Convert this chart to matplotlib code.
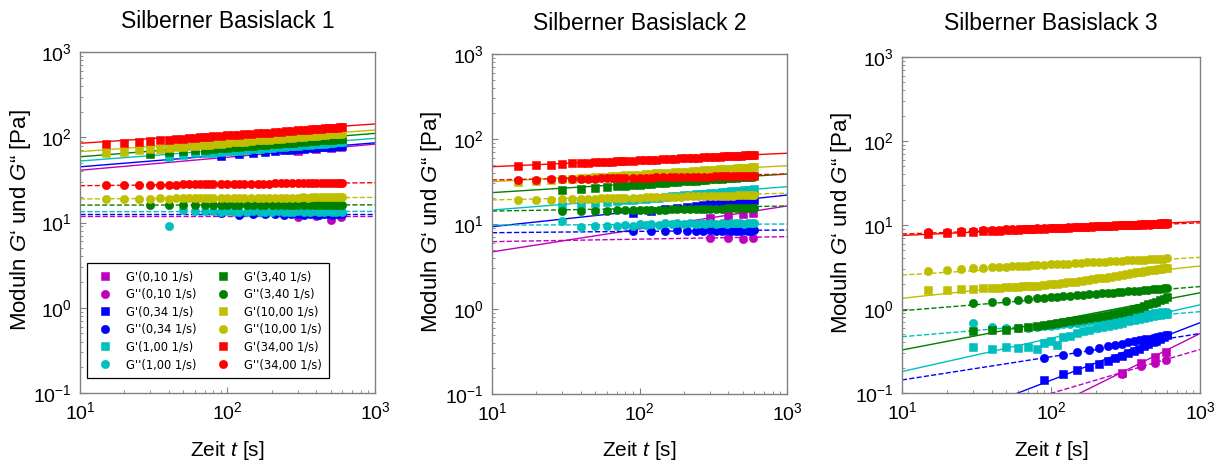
import matplotlib
matplotlib.use("Agg")
import matplotlib.pyplot as plt

plt.rcParams["font.family"] = ["Liberation Sans", "DejaVu Sans"]
plt.rcParams["mathtext.fontset"] = "custom"
plt.rcParams["mathtext.rm"] = "Liberation Sans"
plt.rcParams["mathtext.it"] = "Liberation Sans:italic"
plt.rcParams["axes.unicode_minus"] = False

titles = ["Silberner Basislack 1", "Silberner Basislack 2", "Silberner Basislack 3"]
rates = ["0,10", "0,34", "1,00", "3,40", "10,00", "34,00"]
colors = ["m", "b", "c", "g", "y", "r"]

# measurement times [s] per shear rate (slow rates are sampled less often)
t_vslow = [300, 400, 500, 590]
t_slow = [90, 120, 150, 180, 210, 240, 270, 300, 330, 360, 390, 420, 450, 480,
          510, 540, 570, 600]
t_mid = [30, 40, 50, 60, 70, 80, 90, 100, 110, 120, 135, 150, 165, 180, 200, 220,
         240, 260, 280, 300, 330, 360, 390, 420, 450, 480, 510, 540, 570, 600]
t_fast = [15, 20, 25, 30, 35, 40, 45, 50, 55, 60, 65, 70, 75, 80, 90, 100, 110,
          120, 130, 145, 160, 175, 190, 210, 230, 250, 275, 300, 325, 350, 375,
          400, 430, 460, 490, 520, 550, 575, 600]
rate_times = [t_vslow, t_slow, t_mid, t_mid, t_fast, t_fast]

# ---------------- Basislack 1 ----------------
bl1_gp_010 = [69.5, 72.0, 74.0, 76.0]
bl1_gpp_010 = [11.6, 11.9, 10.8, 11.7]
bl1_gp_034 = [61.0, 63.8, 65.2, 67.6, 68.4, 70.3, 70.9, 72.6, 73.0, 74.5, 74.7,
              76.1, 76.3, 77.5, 77.6, 78.9, 79.0, 79.9]
bl1_gpp_034 = [12.9, 12.4, 12.5, 12.7, 12.5, 12.4, 12.6, 12.5, 12.3, 12.6, 12.5,
               12.4, 12.6, 12.5, 12.4, 12.5, 12.6, 12.5]
bl1_gp_100 = [58.6, 61.4, 64.7, 64.5, 65.9, 66.9, 68.1, 68.8, 69.9, 70.9, 72.2,
              73.0, 74.1, 75.1, 76.3, 77.1, 78.2, 78.8, 79.8, 80.7, 81.9, 82.7,
              83.8, 84.4, 85.4, 86.0, 86.9, 87.4, 88.2]
bl1_gpp_100 = [9.2, 13.9, 13.7, 13.6, 13.5, 13.4, 13.5, 13.4, 13.3, 13.4, 13.5,
               13.4, 13.3, 13.4, 13.5, 13.4, 13.4, 13.3, 13.5, 13.4, 13.4, 13.5,
               13.3, 13.4, 13.5, 13.4, 13.4, 13.5, 13.4]
bl1_gp_340 = [63.7, 67.7, 68.6, 70.5, 71.5, 73.3, 74.0, 75.5, 76.0, 77.4, 78.2,
              79.8, 80.4, 81.7, 82.5, 84.0, 84.5, 85.9, 86.3, 87.6, 88.2, 89.7,
              90.3, 91.6, 92.0, 93.3, 93.6, 94.7, 95.0, 95.9]
bl1_gpp_340 = [16.1, 16.0, 16.2, 15.9, 16.1, 16.0, 16.2, 16.0, 16.1, 15.9, 16.0,
               16.1, 16.0, 16.2, 16.0, 16.1, 16.0, 15.9, 16.1, 16.0, 16.1, 16.0,
               16.2, 16.0, 16.1, 16.0, 16.1, 16.2, 16.0, 16.1]
bl1_gp_1000 = [65.0, 67.8, 70.0, 71.9, 73.5, 74.9, 76.2, 77.4, 78.5, 79.5, 80.4,
               81.3, 82.1, 82.9, 84.3, 85.6, 86.8, 87.9, 88.9, 90.3, 91.6, 92.8,
               93.9, 95.3, 96.6, 97.8, 99.1, 100.4, 101.5, 102.6, 103.7, 104.7,
               105.8, 106.8, 107.8, 108.7, 109.6, 110.3, 111.0]
bl1_gpp_1000 = [18.9, 19.1, 19.0, 19.1, 19.2, 19.1, 19.2, 19.2, 19.3, 19.2, 19.3,
                19.3, 19.4, 19.3, 19.4, 19.4, 19.4, 19.5, 19.4, 19.5, 19.5, 19.5,
                19.6, 19.5, 19.6, 19.6, 19.6, 19.6, 19.7, 19.6, 19.7, 19.7, 19.7,
                19.7, 19.7, 19.8, 19.7, 19.8, 19.8]
bl1_gp_3400 = [83.0, 86.0, 88.4, 90.4, 92.1, 93.7, 95.1, 96.3, 97.4, 98.5, 99.5,
               100.4, 101.3, 102.1, 103.6, 104.9, 106.2, 107.3, 108.4, 109.8,
               111.2, 112.5, 113.6, 115.0, 116.4, 117.5, 118.9, 120.2, 121.4,
               122.5, 123.6, 124.6, 125.7, 126.7, 127.7, 128.6, 129.5, 130.3, 131.0]
bl1_gpp_3400 = [27.6, 27.7, 27.7, 27.8, 27.8, 27.9, 27.9, 28.0, 28.0, 28.0, 28.1,
                28.1, 28.1, 28.2, 28.2, 28.3, 28.3, 28.4, 28.4, 28.5, 28.5, 28.6,
                28.6, 28.7, 28.7, 28.8, 28.8, 28.9, 28.9, 29.0, 29.0, 29.1, 29.1,
                29.2, 29.2, 29.3, 29.3, 29.4, 29.4]
# power-law fits, value at t = 10 s and t = 1000 s
bl1_fit_gp = [(41.0, 83.0), (45.0, 86.0), (52.6, 97.0), (59.0, 111.0),
              (67.8, 121.6), (85.0, 143.0)]
bl1_fit_gpp = [(11.9, 11.9), (12.5, 12.5), (13.4, 13.5), (16.0, 16.1),
               (18.9, 19.7), (27.0, 29.3)]

# ---------------- Basislack 2 ----------------
bl2_gp_010 = [11.7, 12.5, 13.2, 13.6]
bl2_gpp_010 = [6.8, 6.9, 6.7, 6.9]
bl2_gp_034 = [13.6, 14.3, 15.0, 15.5, 15.9, 16.3, 16.7, 17.0, 17.3, 17.6, 17.9,
              18.1, 18.4, 18.6, 18.8, 19.0, 19.2, 19.4]
bl2_gpp_034 = [8.3, 8.2, 8.3, 8.4, 8.2, 8.3, 8.3, 8.4, 8.2, 8.3, 8.4, 8.3, 8.2,
               8.3, 8.4, 8.3, 8.3, 8.4]
bl2_gp_100 = [16.5, 17.2, 17.8, 18.2, 18.7, 19.0, 19.4, 19.7, 19.9, 20.2, 20.5,
              20.8, 21.1, 21.4, 21.7, 22.0, 22.3, 22.6, 22.8, 23.0, 23.4, 23.7,
              23.9, 24.2, 24.4, 24.7, 24.9, 25.1, 25.3, 25.5]
bl2_gpp_100 = [10.9, 9.3, 9.6, 9.4, 9.5, 9.8, 9.6, 9.9, 9.7, 10.1, 9.8, 10.2,
               9.9, 10.3, 9.9, 10.2, 10.0, 10.4, 9.9, 10.3, 10.1, 10.4, 10.0,
               10.3, 10.2, 10.4, 10.1, 10.3, 10.2, 10.3]
bl2_gp_340 = [25.0, 25.9, 26.7, 27.3, 27.8, 28.3, 28.7, 29.1, 29.4, 29.7, 30.2,
              30.6, 30.9, 31.3, 31.7, 32.1, 32.4, 32.8, 33.1, 33.4, 33.7, 34.1,
              34.5, 34.8, 35.1, 35.4, 35.6, 35.9, 36.1, 36.4]
bl2_gpp_340 = [14.2, 14.3, 14.4, 14.4, 14.5, 14.5, 14.6, 14.6, 14.7, 14.7, 14.8,
               14.8, 14.9, 14.9, 15.0, 15.0, 15.0, 15.1, 15.1, 15.2, 15.2, 15.2,
               15.3, 15.3, 15.3, 15.4, 15.4, 15.4, 15.5, 15.5]
bl2_gp_1000 = [31.0, 32.0, 32.8, 33.4, 34.0, 34.5, 35.0, 35.4, 35.7, 36.1, 36.4,
               36.7, 37.0, 37.3, 37.8, 38.2, 38.6, 39.0, 39.3, 39.8, 40.2, 40.6,
               41.0, 41.4, 41.9, 42.3, 42.7, 43.1, 43.5, 43.8, 44.2, 44.5, 44.8,
               45.2, 45.5, 45.8, 46.1, 46.3, 46.5]
bl2_gpp_1000 = [19.0, 19.2, 19.4, 19.5, 19.6, 19.7, 19.8, 19.9, 20.0, 20.0, 20.1,
                20.2, 20.2, 20.3, 20.4, 20.5, 20.6, 20.6, 20.7, 20.8, 20.9, 21.0,
                21.0, 21.1, 21.2, 21.3, 21.3, 21.4, 21.4, 21.5, 21.5, 21.6, 21.6,
                21.7, 21.7, 21.8, 21.8, 21.8, 21.9]
bl2_gp_3400 = [48.0, 49.2, 50.1, 50.8, 51.5, 52.0, 52.5, 53.0, 53.4, 53.8, 54.1,
               54.5, 54.8, 55.1, 55.6, 56.1, 56.5, 56.9, 57.3, 57.8, 58.3, 58.8,
               59.1, 59.7, 60.1, 60.5, 61.0, 61.4, 61.8, 62.2, 62.5, 62.9, 63.3,
               63.6, 63.9, 64.3, 64.6, 64.8, 65.0]
bl2_gpp_3400 = [33.0, 33.3, 33.5, 33.7, 33.8, 34.0, 34.1, 34.2, 34.3, 34.4, 34.5,
                34.6, 34.6, 34.7, 34.9, 35.0, 35.1, 35.2, 35.3, 35.4, 35.5, 35.6,
                35.7, 35.8, 35.9, 36.0, 36.1, 36.2, 36.3, 36.3, 36.4, 36.5, 36.6,
                36.6, 36.7, 36.8, 36.8, 36.9, 37.0]
bl2_fit_gp = [(4.7, 16.3), (9.3, 21.9), (14.6, 27.5), (23.4, 38.7),
              (31.5, 48.5), (47.2, 68.0)]
bl2_fit_gpp = [(6.2, 7.1), (7.9, 8.5), (9.7, 10.0), (14.2, 16.3),
               (19.2, 23.0), (33.0, 38.7)]

# ---------------- Basislack 3 ----------------
bl3_gp_010 = [0.175, 0.225, 0.27, 0.31]
bl3_gpp_010 = [0.17, 0.21, 0.23, 0.25]
bl3_gp_034 = [0.143, 0.168, 0.188, 0.205, 0.222, 0.240, 0.258, 0.278, 0.298,
              0.318, 0.338, 0.358, 0.378, 0.400, 0.420, 0.443, 0.466, 0.490]
bl3_gpp_034 = [0.259, 0.285, 0.307, 0.327, 0.344, 0.360, 0.375, 0.388, 0.401,
               0.413, 0.424, 0.435, 0.445, 0.455, 0.464, 0.473, 0.482, 0.490]
bl3_gp_100 = [0.35, 0.33, 0.35, 0.34, 0.35, 0.33, 0.39, 0.42, 0.37, 0.46, 0.48,
              0.52, 0.54, 0.56, 0.59, 0.61, 0.63, 0.65, 0.67, 0.69, 0.72, 0.74,
              0.76, 0.78, 0.80, 0.82, 0.84, 0.85, 0.87, 0.88]
bl3_gpp_100 = [0.68, 0.61, 0.60, 0.59, 0.60, 0.61, 0.62, 0.63, 0.64, 0.66, 0.67,
               0.69, 0.70, 0.72, 0.73, 0.75, 0.76, 0.78, 0.79, 0.80, 0.82, 0.84,
               0.85, 0.87, 0.88, 0.89, 0.90, 0.91, 0.92, 0.93]
bl3_gp_340 = [0.55, 0.56, 0.57, 0.59, 0.61, 0.63, 0.65, 0.67, 0.69, 0.70, 0.72,
              0.74, 0.76, 0.78, 0.81, 0.83, 0.85, 0.87, 0.89, 0.91, 0.95, 0.99,
              1.04, 1.09, 1.14, 1.18, 1.22, 1.27, 1.32, 1.38]
bl3_gpp_340 = [1.17, 1.22, 1.25, 1.28, 1.31, 1.34, 1.36, 1.38, 1.39, 1.41, 1.43,
               1.45, 1.47, 1.49, 1.51, 1.53, 1.55, 1.57, 1.58, 1.60, 1.62, 1.64,
               1.66, 1.68, 1.70, 1.72, 1.73, 1.75, 1.76, 1.77]
bl3_gp_1000 = [1.68, 1.70, 1.72, 1.74, 1.76, 1.78, 1.80, 1.81, 1.83, 1.85, 1.86,
               1.88, 1.89, 1.90, 1.93, 1.97, 2.00, 2.04, 2.07, 2.12, 2.17, 2.21,
               2.26, 2.31, 2.36, 2.42, 2.48, 2.55, 2.61, 2.67, 2.72, 2.78, 2.83,
               2.88, 2.93, 2.98, 3.02, 3.06, 3.10]
bl3_gpp_1000 = [2.86, 2.94, 3.00, 3.05, 3.09, 3.13, 3.16, 3.19, 3.22, 3.24, 3.27,
                3.29, 3.31, 3.33, 3.37, 3.40, 3.43, 3.45, 3.48, 3.51, 3.55, 3.58,
                3.60, 3.64, 3.67, 3.70, 3.73, 3.76, 3.78, 3.81, 3.83, 3.86, 3.88,
                3.91, 3.93, 3.95, 3.97, 3.99, 4.00]
bl3_gp_3400 = [7.90, 8.07, 8.22, 8.33, 8.43, 8.52, 8.60, 8.67, 8.73, 8.79, 8.84,
               8.90, 8.94, 8.98, 9.07, 9.14, 9.21, 9.27, 9.33, 9.41, 9.48, 9.54,
               9.61, 9.68, 9.75, 9.81, 9.88, 9.95, 10.01, 10.06, 10.12, 10.18,
               10.23, 10.29, 10.33, 10.38, 10.43, 10.46, 10.50]
bl3_gpp_3400 = [8.20, 8.35, 8.46, 8.56, 8.64, 8.72, 8.77, 8.84, 8.89, 8.94, 8.98,
                9.02, 9.06, 9.09, 9.16, 9.23, 9.27, 9.32, 9.37, 9.44, 9.50, 9.55,
                9.59, 9.66, 9.72, 9.77, 9.82, 9.87, 9.92, 9.97, 10.01, 10.05,
                10.09, 10.13, 10.18, 10.22, 10.25, 10.28, 10.31]
bl3_fit_gp = [(0.00886, 0.51), (0.0293, 0.687), (0.18, 1.12), (0.325, 1.56),
              (1.34, 3.25), (7.5, 11.0)]
bl3_fit_gpp = [(0.0297, 0.33), (0.143, 0.51), (0.468, 0.93), (0.955, 1.85),
               (2.54, 4.12), (7.8, 10.6)]

fit_t = [10, 1000]

panels = [
    dict(gp=[bl1_gp_010, bl1_gp_034, bl1_gp_100, bl1_gp_340, bl1_gp_1000, bl1_gp_3400],
         gpp=[bl1_gpp_010, bl1_gpp_034, bl1_gpp_100, bl1_gpp_340, bl1_gpp_1000, bl1_gpp_3400],
         fit_gp=bl1_fit_gp, fit_gpp=bl1_fit_gpp),
    dict(gp=[bl2_gp_010, bl2_gp_034, bl2_gp_100, bl2_gp_340, bl2_gp_1000, bl2_gp_3400],
         gpp=[bl2_gpp_010, bl2_gpp_034, bl2_gpp_100, bl2_gpp_340, bl2_gpp_1000, bl2_gpp_3400],
         fit_gp=bl2_fit_gp, fit_gpp=bl2_fit_gpp),
    dict(gp=[bl3_gp_010, bl3_gp_034, bl3_gp_100, bl3_gp_340, bl3_gp_1000, bl3_gp_3400],
         gpp=[bl3_gpp_010, bl3_gpp_034, bl3_gpp_100, bl3_gpp_340, bl3_gpp_1000, bl3_gpp_3400],
         fit_gp=bl3_fit_gp, fit_gpp=bl3_fit_gpp),
]

W, H = 1223, 461
# axes boxes in pixels: left, top, right, bottom
boxes = [(80, 52, 375, 393), (492, 54, 787, 394), (902, 57, 1200, 393)]
title_y = [28, 30, 30]
ylabel_x = [21, 432, 842]

fig = plt.figure(figsize=(W / 100, H / 100), dpi=100)

spine_col = "#808080"


def tail_times(times, values):
    return times[len(times) - len(values):]


for k, (pan, box) in enumerate(zip(panels, boxes)):
    l, t, r, b = box
    ax = fig.add_axes([l / W, 1 - b / H, (r - l) / W, (b - t) / H])
    ax.set_xscale("log")
    ax.set_yscale("log")

    for i, col in enumerate(colors):
        times = rate_times[i]
        gp = pan["gp"][i]
        gpp = pan["gpp"][i]
        ax.plot(tail_times(times, gp), gp, ls="none", marker="s", ms=5.4,
                color=col, mec=col, mew=0.4, label=f"G'({rates[i]} 1/s)")
        ax.plot(tail_times(times, gpp), gpp, ls="none", marker="o", ms=6.0,
                color=col, mec=col, mew=0.4, label=f"G''({rates[i]} 1/s)")
        ax.plot(fit_t, pan["fit_gp"][i], "-", color=col, lw=1.0)
        ax.plot(fit_t, pan["fit_gpp"][i], "--", color=col, lw=1.0)

    ax.set_xlim(10, 1000)
    ax.set_ylim(0.1, 1000)
    for sp in ax.spines.values():
        sp.set_color(spine_col)
        sp.set_linewidth(1.0)
    ax.tick_params(which="both", direction="in", colors=spine_col,
                   labelcolor="black", labelsize=14)
    ax.tick_params(which="major", length=4, width=0.8, pad=6)
    ax.tick_params(which="minor", length=2, width=0.6)

    xc = (l + r) / 2
    fig.text(xc / W, 1 - title_y[k] / H, titles[k], ha="center", va="baseline",
             fontsize=16.5)
    fig.text(xc / W, 1 - 456 / H, "Zeit $t$ [s]", ha="center", va="baseline",
             fontsize=15)
    fig.text(ylabel_x[k] / W, 1 - ((t + b) / 2 - 2) / H,
             "Moduln $G$\u2018 und $G$\u201c [Pa]", rotation=90, ha="center",
             va="center", fontsize=16)

    if k == 0:
        leg = ax.legend(ncol=2, loc="lower left",
                        bbox_to_anchor=(7 / (r - l), 15 / (b - t)),
                        borderaxespad=0, prop={"family": "DejaVu Sans", "size": 8.3},
                        frameon=True, fancybox=False, framealpha=1,
                        edgecolor="black", labelspacing=0.4, columnspacing=1.3,
                        handlelength=2.0, handletextpad=0.8, borderpad=0.6,
                        numpoints=1)
        leg.get_frame().set_linewidth(0.9)

fig.savefig("out.png", dpi=100)
